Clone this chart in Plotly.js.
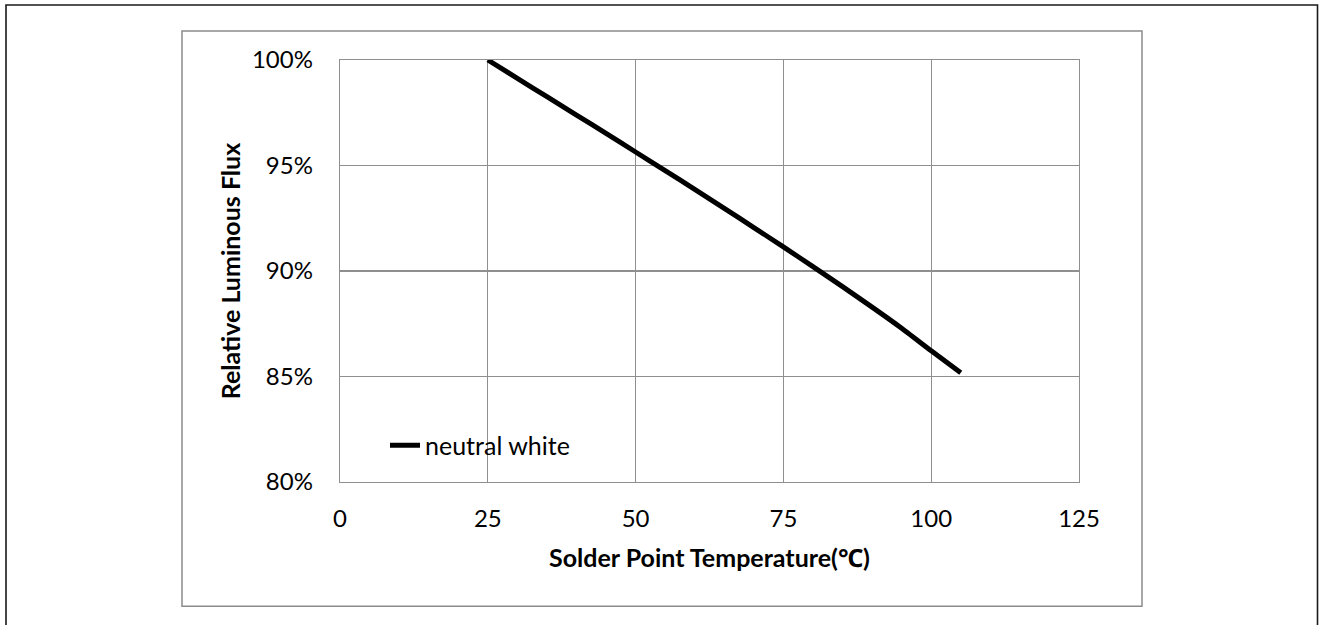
<!DOCTYPE html>
<html>
<head>
<meta charset="utf-8">
<script src="https://cdn.plot.ly/plotly-3.0.1.min.js"></script>
<style>
html,body{margin:0;padding:0;background:#fff;}
#chart{width:1320px;height:625px;}
</style>
</head>
<body>
<div id="chart"></div>
<script>
// ---- data ----
const temperature = [25, 30, 35, 40, 45, 50, 55, 60, 65, 70, 75, 80, 85, 90, 95, 100, 105];
const relativeFlux = [1.000, 0.9913, 0.9826, 0.9739, 0.9652, 0.9564, 0.9476, 0.9387, 0.9297, 0.9206, 0.9114, 0.9021, 0.8926, 0.8829, 0.8729, 0.8622, 0.8518];
const seriesName = 'neutral white';
const xTickValues = [0, 25, 50, 75, 100, 125];
const yTickValues = [0.80, 0.85, 0.90, 0.95, 1.00];
const yTickLabels = ['80%', '85%', '90%', '95%', '100%'];

// ---- layout geometry (pixels) ----
const W = 1320, H = 625;
const plotL = 340, plotR = 1079, plotT = 60, plotB = 482.5;
const pw = plotR - plotL, ph = plotB - plotT;
const px = v => (v - plotL) / pw;
const py = v => (plotB - v) / ph;

const FONT = 'Lato, "Open Sans", "Noto Sans", sans-serif';
const gridColor = '#8f8f8f';

const trace = {
  x: temperature,
  y: relativeFlux,
  type: 'scatter',
  mode: 'lines',
  name: seriesName,
  line: {color: '#000000', width: 5, shape: 'spline', smoothing: 0.5}
};

const layout = {
  width: W, height: H,
  margin: {l: plotL, r: W - plotR, t: plotT, b: H - plotB, pad: 0},
  paper_bgcolor: '#ffffff',
  plot_bgcolor: '#ffffff',
  font: {family: FONT, size: 24, color: '#000000'},
  showlegend: true,
  legend: {
    x: px(385), y: py(446), xanchor: 'left', yanchor: 'middle',
    bgcolor: 'rgba(0,0,0,0)', borderwidth: 0,
    font: {family: FONT, size: 25, color: '#000000'},
    itemwidth: 30
  },
  xaxis: {
    range: [0, 125],
    tickvals: xTickValues,
    ticktext: xTickValues.map(String),
    showgrid: true, gridcolor: gridColor, gridwidth: 1.3,
    zeroline: false,
    showline: true, linecolor: gridColor, linewidth: 1.3, mirror: true,
    ticks: '', ticklabelstandoff: 15,
    tickfont: {family: FONT, size: 24, color: '#000000'},
    title: {text: 'Solder Point Temperature(℃)', standoff: 18,
            font: {family: FONT, size: 25, color: '#000000', weight: 'bold'}},
    fixedrange: true
  },
  yaxis: {
    range: [0.80, 1.00],
    tickvals: yTickValues,
    ticktext: yTickLabels,
    showgrid: true, gridcolor: gridColor, gridwidth: 1.3,
    zeroline: false,
    showline: true, linecolor: gridColor, linewidth: 1.3, mirror: true,
    ticks: '', ticklabelstandoff: 21,
    tickfont: {family: FONT, size: 24, color: '#000000'},
    title: {text: 'Relative Luminous Flux', standoff: 4,
            font: {family: FONT, size: 25, color: '#000000', weight: 'bold'}},
    fixedrange: true
  },
  shapes: [
    {type: 'rect', xref: 'paper', yref: 'paper',
     x0: px(182), x1: px(1142), y0: py(607), y1: py(31),
     line: {color: '#8c8c8c', width: 1.5}, fillcolor: 'rgba(0,0,0,0)', layer: 'below'},
    {type: 'rect', xref: 'paper', yref: 'paper',
     x0: px(6), x1: px(1317.5), y0: py(660), y1: py(5),
     line: {color: '#1a1a1a', width: 1.6}, fillcolor: 'rgba(0,0,0,0)', layer: 'below'}
  ]
};

Plotly.newPlot('chart', [trace], layout, {displayModeBar: false, staticPlot: true});
</script>
</body>
</html>
